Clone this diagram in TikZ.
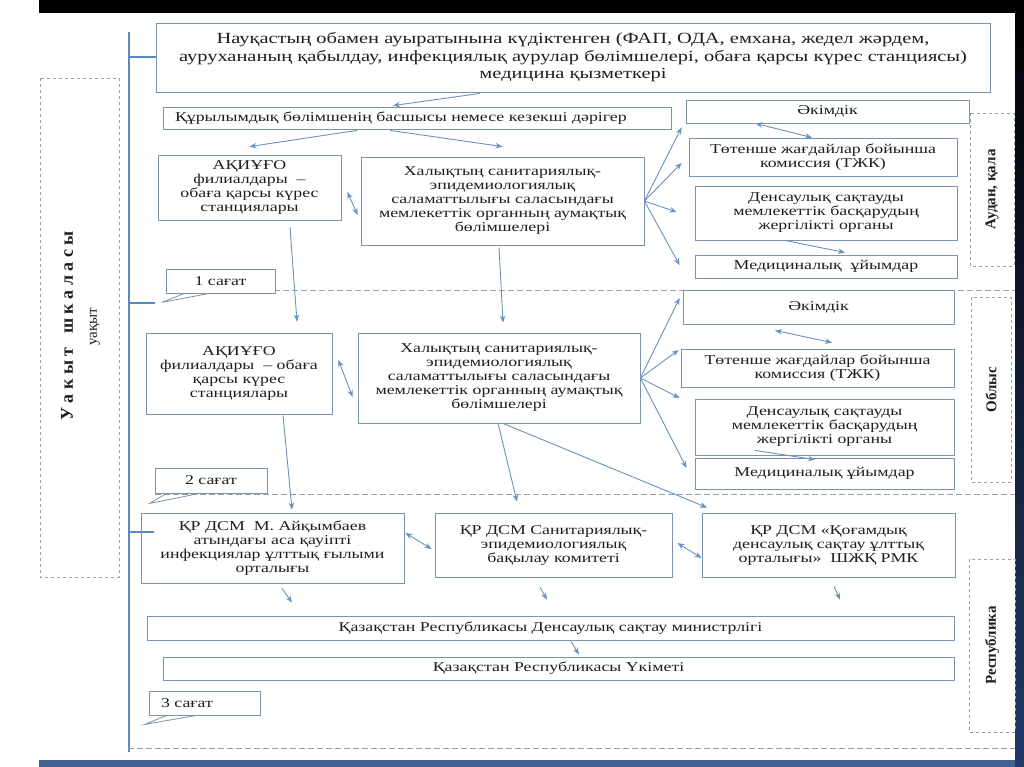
\documentclass[tikz,border=0pt]{standalone}
\usepackage{fontspec}
\setmainfont{Liberation Serif}[FakeStretch=1.32]
\newfontfamily\sidefont{Liberation Serif}
\usepackage{xcolor}
\usetikzlibrary{arrows.meta}
\usetikzlibrary{calc}
\definecolor{boxc}{RGB}{125,147,171}
\definecolor{arrc}{RGB}{104,146,190}
\definecolor{axisc}{RGB}{92,136,190}
\definecolor{dshc}{RGB}{150,160,172}
\definecolor{txtc}{RGB}{30,30,30}
\definecolor{navyc}{RGB}{34,58,104}
\definecolor{stripc}{RGB}{66,98,148}
\tikzset{
	blk/.style={draw=boxc, line width=0.8pt, fill=white, align=center, text=txtc, inner sep=2pt, font=\fontsize{13.5}{14}\selectfont},
	side/.style={draw=dshc, line width=0.8pt, dashed, rotate=90, text=txtc, font=\sidefont\bfseries\fontsize{15}{15}\selectfont},
	arr/.style={draw=arrc, line width=0.9pt, -{Stealth[length=7pt,width=5.5pt]}},
	darr/.style={draw=arrc, line width=0.9pt, {Stealth[length=7pt,width=5.5pt]}-{Stealth[length=7pt,width=5.5pt]}},
	sep/.style={draw=dshc, line width=0.8pt, dash pattern=on 6pt off 3pt},
	call/.style={draw=boxc, line width=0.8pt},
	tl/.style={draw=axisc, line width=2pt}
}
\begin{document}
\begin{tikzpicture}[x=1pt,y=-1pt]
	 \useasboundingbox (0,0) rectangle (1024,767);
	 %Rahmen
	 \fill[black] (39,0) rectangle (1024,13);
	 \shade[top color=black, bottom color=navyc] (1015,0) rectangle (1024,767);
	 \fill[stripc] (39,760) rectangle (1015,767);
	 %
	 %Zeitachse
	 \coordinate (ax) at (129,32);
	 \coordinate (axe) at (129,752);
	 \draw[tl] (ax) -- (axe);
	 %
	 %Trennlinien
	 \draw[sep] (166,290) -- (1015,290);
	 \draw[sep] (155,494) -- (1015,494);
	 \draw[sep] (128,748) -- (1015,748);
	 %
	 \node (scale) at (79.5,327.5) [side, minimum width=499pt, minimum height=79pt] {};
	 \node (scaletxt) at (67,326) [rotate=90, text=txtc, font=\sidefont\bfseries\fontsize{18}{18}\selectfont] {У а к ы т \ \ ш к а л а с ы};
	 \node (uaqyt) at (95,327) [rotate=90, text=txtc, font=\sidefont\fontsize{15}{15}\selectfont] {уақыт};
	 %
	 \node (top) at (573,57.5) [blk, font=\fontsize{15.5}{17.5}\selectfont, minimum width=834pt, minimum height=69pt] {Науқастың обамен ауыратынына күдіктенген (ФАП, ОДА, емхана, жедел жәрдем,\\ аурухананың қабылдау, инфекциялық аурулар бөлімшелері, обаға қарсы күрес станциясы)\\ медицина қызметкері};
	 %
	 \node (head) at (417,118) [blk, text width=484pt, inner xsep=12pt, align=left, minimum height=22pt] {Құрылымдық бөлімшенің басшысы немесе кезекші дәрігер};
	 %
	 \node (aki1) at (249.5,187.5) [blk, minimum width=183pt, minimum height=65pt] {АҚИҰҒО\\ филиалдары \ –\\ обаға қарсы күрес\\ станциялары};
	 %
	 \node (hal1) at (502.5,201) [blk, minimum width=283pt, minimum height=88pt] {Халықтың санитариялық-\\ эпидемиологиялық\\ саламаттылығы саласындағы\\ мемлекеттік органның аумақтық\\ бөлімшелері};
	 %
	 \node (akim1) at (827.5,111.5) [blk, minimum width=283pt, minimum height=23pt] {Әкімдік};
	 %
	 \node (tjk1) at (823,157) [blk, minimum width=268pt, minimum height=38pt] {Төтенше жағдайлар бойынша\\ комиссия (ТЖК)};
	 %
	 \node (dens1) at (826,213) [blk, minimum width=262pt, minimum height=54pt] {Денсаулық сақтауды\\ мемлекеттік басқарудың\\ жергілікті органы};
	 %
	 \node (med1) at (826,266.5) [blk, minimum width=262pt, minimum height=23pt] {Медициналық \ ұйымдар};
	 %
	 \node (audan) at (992,189.5) [side, minimum width=153pt, minimum height=44pt] {Аудан, қала};
	 %
	 \node (sag1) at (220.5,281) [blk, minimum width=109pt, minimum height=24pt] {1 сағат};
	 %
	 \node (aki2) at (239,373.5) [blk, minimum width=186pt, minimum height=81pt] {АҚИҰҒО\\ филиалдары \ – обаға\\ қарсы күрес\\ станциялары};
	 %
	 \node (hal2) at (499,378) [blk, minimum width=282pt, minimum height=90pt] {Халықтың санитариялық-\\ эпидемиологиялық\\ саламаттылығы саласындағы\\ мемлекеттік органның аумақтық\\ бөлімшелері};
	 %
	 \node (akim2) at (818.5,307) [blk, minimum width=271pt, minimum height=34pt] {Әкімдік};
	 %
	 \node (tjk2) at (817.5,368) [blk, minimum width=273pt, minimum height=38pt] {Төтенше жағдайлар бойынша\\ комиссия (ТЖК)};
	 %
	 \node (dens2) at (824.5,427) [blk, minimum width=259pt, minimum height=56pt] {Денсаулық сақтауды\\ мемлекеттік басқарудың\\ жергілікті органы};
	 %
	 \node (med2) at (824.5,473.5) [blk, minimum width=259pt, minimum height=31pt] {Медициналық ұйымдар};
	 %
	 \node (oblys) at (991,389.5) [side, minimum width=185pt, minimum height=40pt] {Облыс};
	 %
	 \node (sag2) at (211,480.5) [blk, minimum width=112pt, minimum height=25pt] {2 сағат};
	 %
	 \node (ncd) at (272.5,548) [blk, minimum width=263pt, minimum height=70pt] {ҚР ДСМ \ М. Айқымбаев\\ атындағы аса қауіпті\\ инфекциялар ұлттық ғылыми\\ орталығы};
	 %
	 \node (san) at (553.5,545) [blk, minimum width=237pt, minimum height=64pt] {ҚР ДСМ Санитариялық-\\ эпидемиологиялық\\ бақылау комитеті};
	 %
	 \node (qog) at (828.5,545) [blk, minimum width=253pt, minimum height=64pt] {ҚР ДСМ «Қоғамдық\\ денсаулық сақтау ұлттық\\ орталығы» \ ШЖҚ РМК};
	 %
	 \node (min) at (550.5,628) [blk, minimum width=807pt, minimum height=24pt] {Қазақстан Республикасы Денсаулық сақтау министрлігі};
	 %
	 \node (gov) at (558.5,668.5) [blk, minimum width=791pt, minimum height=23pt] {Қазақстан Республикасы Үкіметі};
	 %
	 \node (sag3) at (204.5,703) [blk, text width=87pt, inner xsep=12pt, align=left, minimum height=24pt] {3 сағат};
	 %
	 \node (resp) at (992,645.5) [side, minimum width=173pt, minimum height=46pt] {Республика};
	 %
	 %Skala-Marken
	 \draw[tl] (ax |- top.west) -- (top.west);
	 \draw[tl] (129,303) -- (155,303);
	 \draw[tl] (129,532) -- (154,532);
	 %
	 %Sprechblasen
	 \draw[call] ($(sag1.south west)+(19,0)$) -- ++(-23,9) -- ($(sag1.south west)+(44,0)$);
	 \draw[call] ($(sag2.south west)+(12,0)$) -- ++(-17,10) -- ($(sag2.south west)+(45,0)$);
	 \draw[call] ($(sag3.south west)+(18,0)$) -- ++(-22,9) -- ($(sag3.south west)+(48,0)$);
	 %
	 %Arzt-Leiter
	 \draw[arr] ($(top.south)+(-93,1)$) -- ($(head.north)+(-24,-1)$);
	 %
	 %Leiter-Filialen
	 \draw[arr] ($(head.south)+(-60,1)$) -- ($(aki1.north)+(0,-8)$);
	 \draw[arr] ($(head.south)+(-27,1)$) -- ($(hal1.north)+(0,-10)$);
	 \draw[darr] ($(aki1.east)+(6,4.5)$) -- ($(hal1.west)+(-3,14)$);
	 %
	 %Bezirk
	 \draw[arr] (hal1.east) -- ($(akim1.south west)+(-4,4)$);
	 \draw[arr] (hal1.east) -- ($(tjk1.west)+(-7,6)$);
	 \draw[arr] (hal1.east) -- ($(dens1.west)+(-18,-1)$);
	 \draw[arr] (hal1.east) -- ($(med1.west)+(-15,-1.5)$);
	 \draw[darr] ($(akim1.south)+(-72,0)$) -- ($(tjk1.north)+(-11,0)$);
	 \draw[arr] ($(dens1.south)+(-41,0)$) -- ($(med1.north)+(19,-2)$);
	 %
	 %Bezirk-Gebiet
	 \draw[arr] ($(aki1.south)+(40.5,7)$) -- ($(aki2.north)+(58,-11)$);
	 \draw[arr] ($(hal1.south)+(-3.5,2)$) -- ($(hal2.north)+(4,-10)$);
	 \draw[darr] ($(aki2.east)+(6,-13.5)$) -- ($(hal2.west)+(-5,19)$);
	 %
	 %Gebiet
	 \draw[arr] (hal2.east) -- ($(akim2.west)+(-3,-9)$);
	 \draw[arr] (hal2.east) -- ($(tjk2.west)+(-2,-18)$);
	 \draw[arr] (hal2.east) -- ($(dens2.west)+(-15,-29)$);
	 \draw[arr] (hal2.east) -- ($(med2.west)+(-8,-5.5)$);
	 \draw[darr] ($(akim2.south)+(-43.5,6)$) -- ($(tjk2.north)+(14.5,-6)$);
	 \draw[arr] ($(dens2.south)+(-69.5,-5)$) -- ($(med2.north)+(-9.5,2)$);
	 %
	 %Gebiet-Republik
	 \draw[arr] ($(aki2.south)+(44,1)$) -- ($(ncd.north)+(19.5,-3)$);
	 \draw[arr] ($(hal2.south)+(-1,0)$) -- ($(san.north)+(-36.5,-11)$);
	 \draw[arr] ($(hal2.south)+(4,0)$) -- ($(qog.north)+(-121.5,-5)$);
	 \draw[darr] ($(ncd.east)+(1,-15)$) -- ($(san.west)+(-3,4)$);
	 \draw[darr] ($(san.east)+(5,-2)$) -- ($(qog.west)+(0,13)$);
	 %
	 %Republik-Ministerium
	 \draw[arr] ($(ncd.south)+(9.5,5)$) -- ($(min.north)+(-258.5,-13)$);
	 \draw[arr] ($(san.south)+(-13.5,10)$) -- ($(min.north)+(-3.5,-16)$);
	 \draw[arr] ($(qog.south)+(5.5,9)$) -- ($(min.north)+(289.5,-16)$);
	 %
	 %Ministerium-Regierung
	 \draw[arr] ($(min.south)+(20.5,1)$) -- ($(gov.north)+(20.5,-2)$);
\end{tikzpicture}
\end{document}
